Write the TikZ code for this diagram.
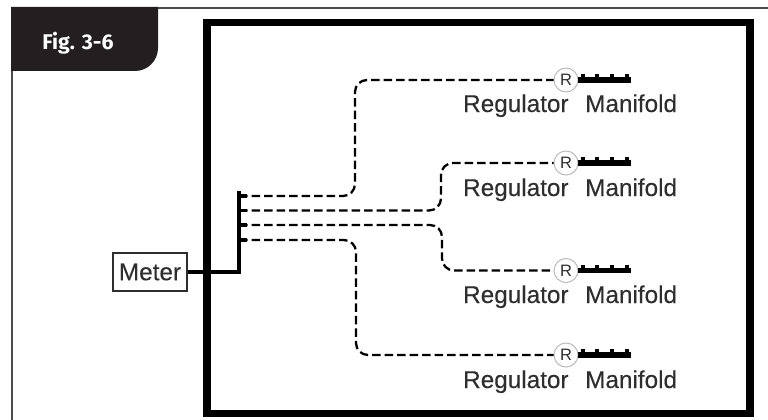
\documentclass[tikz,border=0pt]{standalone}
\usepackage{fontspec}
\setmainfont{Liberation Sans}
\newfontfamily\figfont{Fira Sans}
\newfontfamily\labfont[FakeBold=0.2]{Liberation Sans}
\definecolor{tabdark}{HTML}{231F20}
\definecolor{labelgray}{HTML}{2E2E2E}
\definecolor{ringgray}{HTML}{BBBBBB}
\tikzset{
  x=1pt,y=-1pt,
  heavy/.style={draw=black,line width=7.5pt,miter limit=10},
  feed/.style={draw=black,line width=4.5pt},
  branch/.style={draw=black,line width=2.3pt,dash pattern=on 8.5pt off 4pt,rounded corners=12pt},
  ring/.style={circle,draw=ringgray,fill=white,line width=1pt,minimum size=24pt,inner sep=0pt,font=\fontsize{16.5}{16.5}\selectfont,text=labelgray},
  lab/.style={font=\labfont\fontsize{24.3}{26}\selectfont,text=labelgray,anchor=base west,inner sep=0pt},
  metbox/.style={draw=labelgray,line width=1.2pt,fill=white,minimum width=74pt,minimum height=38pt,inner sep=0pt,font=\labfont\fontsize{24.3}{26}\selectfont,text=labelgray},
  pipe/.style={draw=black,line width=5.2pt},
  stub/.style={draw=black,line width=3.4pt}
}
\newcommand{\regrow}[3]{%
  \node[ring] (r#1) at (566,#2) {R};
  \coordinate (m#1a) at (578,#2);
  \coordinate (m#1b) at (631,#2);
  \draw[pipe] (m#1a) -- (m#1b);
  \foreach \sx in {583,597,612,627}{\draw[stub] (\sx,#2) -- (\sx,#2-6);}
  \node[lab] (tr#1) at (463,#3) {Regulator};
  \node[lab] (tm#1) at (585,#3) {Manifold};
}
\begin{document}
\begin{tikzpicture}
\useasboundingbox (0,0) rectangle (768,420);
\fill[white] (0,0) rectangle (768,420);
\draw[draw=gray!60!black,line width=2.2pt] (12,420) -- (12,8) -- (768,8);
\fill[tabdark] (11,7) -- (158,7) -- (158,48) arc[start angle=0,end angle=90,radius=23] -- (11,71) -- cycle;
\node[font=\figfont\bfseries\fontsize{21.3}{23}\selectfont,text=white,anchor=base] (fig) at (78,49) {Fig. 3-6};
\draw[heavy] (207,22.5) rectangle (750,413.5);
\regrow{1}{80}{112}
\regrow{2}{163}{196}
\regrow{3}{270.5}{303}
\regrow{4}{355}{388}
\node[metbox] (meter) at (150,272) {Meter};
\coordinate (bus) at (239,272);
\coordinate (bustop) at (239,191);
\draw[feed] (meter.east) -- (bus) -- (bustop);
\coordinate (t1) at (239,196);
\coordinate (t2) at (239,210.5);
\coordinate (t3) at (239,225);
\coordinate (t4) at (239,240);
\foreach \t in {t1,t2,t3,t4}{\draw[draw=black,line width=3.5pt] (\t) -- ++(8,0);}
\draw[branch] (t1) -- (355,196) -- (355,80) -- (r1.west);
\draw[branch] (t2) -- (441,210.5) -- (441,163) -- (r2.west);
\draw[branch] (t3) -- (442,225) -- (442,270.5) -- (r3.west);
\draw[branch] (t4) -- (356,240) -- (356,355) -- (r4.west);
\end{tikzpicture}
\end{document}
